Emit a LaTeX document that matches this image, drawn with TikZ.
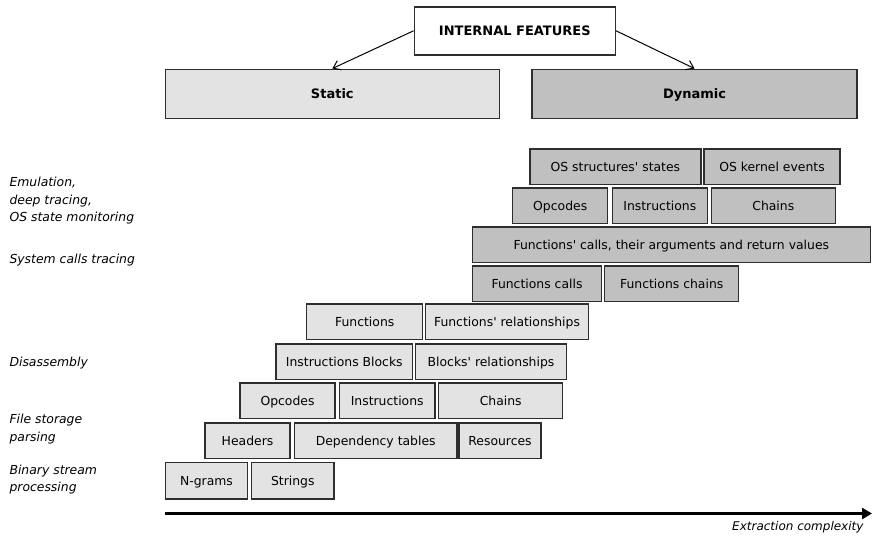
\documentclass[tikz,border=0pt]{standalone}
\usepackage{fontspec}
\setmainfont{DejaVu Sans}
\usepackage{xcolor}
\usepackage{tikz}
\usetikzlibrary{arrows.meta,positioning}

\definecolor{statfill}{HTML}{E3E3E3}
\definecolor{dynfill}{HTML}{C0C0C0}
\definecolor{edge}{HTML}{2E2E2E}
\newcommand{\sq}{\textquotesingle}

\begin{document}
\begin{tikzpicture}[x=1pt, y=-1pt,
    box/.style={rectangle, draw=edge, line width=1.5pt, inner sep=0pt, minimum height=35.5pt,
        text height=9pt, text depth=0pt, font=\fontsize{12.4}{14}\selectfont},
    stat/.style={box, fill=statfill},
    dyn/.style={box, fill=dynfill},
    head/.style={rectangle, draw=edge, line width=1.5pt, minimum height=49pt, inner sep=0pt,
        text height=9.5pt, text depth=0pt, font=\fontsize{13}{15}\selectfont\bfseries},
    lvl/.style={anchor=west, align=left, font=\fontsize{12.4}{17.5}\selectfont\itshape}
]
    \useasboundingbox[fill=white] (0,0) rectangle (872,538);

    % Top nodes
    \node[head, fill=white, minimum width=201pt, minimum height=48pt] (internal) at (514.8,30.8) {INTERNAL FEATURES};
    \node[head, fill=statfill, minimum width=334pt] (static) at (332.3,93.8) {Static};
    \node[head, fill=dynfill, minimum width=325pt] (dynamic) at (694.5,93.8) {Dynamic};

    \draw[line width=1pt, -{Straight Barb[length=7pt, width=10pt]}] (internal.west) -- (static.north);
    \draw[line width=1pt, -{Straight Barb[length=7pt, width=10pt]}] (internal.east) -- (dynamic.north);

    % Dynamic rows
    \node[dyn, minimum width=170.7pt] (osstates) at (615.4,166.7) {OS structures\sq{} states};
    \node[dyn, minimum width=136pt] (kernel) at (772,166.7) {OS kernel events};

    \node[dyn, minimum width=95pt] (dopcodes) at (560.2,205.5) {Opcodes};
    \node[dyn, minimum width=95pt] (dinstr) at (659.8,205.5) {Instructions};
    \node[dyn, minimum width=124pt] (dchains) at (773.3,205.5) {Chains};

    \node[dyn, minimum width=398pt] (fargs) at (671.3,244.5) {Functions\sq{} calls, their arguments and return values};

    \node[dyn, minimum width=129.4pt] (fcalls) at (537,283.5) {Functions calls};
    \node[dyn, minimum width=134pt] (fchains) at (671.7,283.5) {Functions chains};

    % Static rows
    \node[stat, minimum width=116pt] (funcs) at (364.7,321.7) {Functions};
    \node[stat, minimum width=163.4pt] (funcrel) at (507,321.7) {Functions\sq{} relationships};

    \node[stat, minimum width=136.7pt] (iblocks) at (344.3,361.8) {Instructions Blocks};
    \node[stat, minimum width=151.4pt] (blockrel) at (491,361.8) {Blocks\sq{} relationships};

    \node[stat, minimum width=95pt] (sopcodes) at (287.5,400.8) {Opcodes};
    \node[stat, minimum width=95.7pt] (sinstr) at (387.2,400.8) {Instructions};
    \node[stat, minimum width=124pt] (schains) at (500.7,400.8) {Chains};

    \node[stat, minimum width=85pt] (headers) at (247.5,440.8) {Headers};
    \node[stat, minimum width=162.7pt] (deptab) at (375.7,440.8) {Dependency tables};
    \node[stat, minimum width=82pt] (resources) at (500,440.8) {Resources};

    \node[stat, minimum width=82.4pt, minimum height=36.3pt] (ngrams) at (206.5,480.8) {N-grams};
    \node[stat, minimum width=82.3pt, minimum height=36.3pt] (strings) at (292.8,480.8) {Strings};

    % Levels on the left
    \node[lvl] (emul) at (6,201) {Emulation,\\deep tracing,\\OS state monitoring};
    \node[lvl] (syscalls) at (6,260) {System calls tracing};
    \node[lvl] (disasm) at (6,363) {Disassembly};
    \node[lvl] (filestor) at (6,429) {File storage\\parsing};
    \node[lvl] (binstream) at (6,479.5) {Binary stream\\processing};

    % Complexity axis
    \coordinate (axstart) at (165,513.5);
    \coordinate (axend) at (872,513.5);
    \draw[line width=2.8pt, -{Triangle[length=10pt, width=11pt]}] (axstart) -- (axend);
    \node[anchor=east, font=\fontsize{12}{14}\selectfont\itshape] (axlabel) at (867,527) {Extraction complexity};
\end{tikzpicture}
\end{document}
